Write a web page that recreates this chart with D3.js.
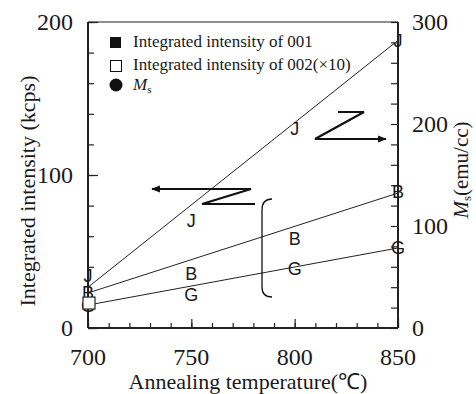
<!DOCTYPE html>
<html>
<head>
<meta charset="utf-8">
<script src="https://cdn.jsdelivr.net/npm/d3@7"></script>
<style>
  body { margin: 0; background: #fff; }
  svg text { fill: #1a1a1a; }
</style>
</head>
<body>
<svg id="chart" width="476" height="394"></svg>
<script>
// Data
const temps = [700, 750, 800, 850];
const msJ = [51, 105, 196, 282];          // M_s, right axis, drawn as "J"
const int001B = [23.5, 35.3, 58.8, 88.9]; // left axis, drawn as "B"
const int002G = [15, 22.2, 38.6, 52.3];   // left axis, drawn as "G"
const fitTemps = [700, 850];
const msFit = [40, 282];
const int001Fit = [22.9, 88.2];
const int002Fit = [15, 52.3];
const openSquare = { t: 700, v: 16.3 };

const xTicks = [700, 750, 800, 850];
const yLeftTicks = [0, 100, 200];
const yRightTicks = [0, 100, 200, 300];
const legendLabels = ['Integrated intensity of 001', 'Integrated intensity of 002(\u00d710)'];

const margin = { top: 22, right: 78, bottom: 66, left: 88 };
const W = 476, H = 394;
const width = W - margin.left - margin.right;
const height = H - margin.top - margin.bottom;

const svg = d3.select('#chart');
const g = svg.append('g').attr('transform', `translate(${margin.left},${margin.top})`);

const x = d3.scaleLinear().domain([700, 850]).range([0, width]);
const yL = d3.scaleLinear().domain([0, 200]).range([height, 0]);
const yR = d3.scaleLinear().domain([0, 300]).range([height, 0]);

const serif = "'Liberation Serif', 'Times New Roman', serif";
const sans = "'Liberation Sans', Arial, sans-serif";

// top border
g.append('line').attr('x1', 0).attr('x2', width).attr('y1', 0).attr('y2', 0)
    .attr('stroke', '#222').attr('stroke-width', 1.2);

// axes: minor ticks then major ticks, all pointing inward
function styleAxis(sel) {
    sel.select('.domain').remove();
    sel.selectAll('line').attr('stroke', '#222').attr('stroke-width', 1.2);
    sel.selectAll('text').remove();
}
g.append('g').attr('transform', `translate(0,${height})`)
    .call(d3.axisTop(x).tickValues(d3.range(700, 851, 10)).tickSize(5)).call(styleAxis);
g.append('g').attr('transform', `translate(0,${height})`)
    .call(d3.axisTop(x).tickValues(xTicks).tickSize(9)).call(styleAxis);
g.append('g')
    .call(d3.axisRight(yL).tickValues(d3.range(0, 201, 20)).tickSize(6)).call(styleAxis);
g.append('g')
    .call(d3.axisRight(yL).tickValues(yLeftTicks).tickSize(10)).call(styleAxis);
g.append('g').attr('transform', `translate(${width},0)`)
    .call(d3.axisLeft(yR).tickValues(d3.range(0, 301, 20)).tickSize(7)).call(styleAxis);

// axis lines
g.append('line').attr('x1', 0).attr('x2', width).attr('y1', height).attr('y2', height)
    .attr('stroke', '#222').attr('stroke-width', 2);
g.append('line').attr('x1', 0).attr('x2', 0).attr('y1', 0).attr('y2', height)
    .attr('stroke', '#222').attr('stroke-width', 2);
g.append('line').attr('x1', width).attr('x2', width).attr('y1', 0).attr('y2', height)
    .attr('stroke', '#222').attr('stroke-width', 2);

// tick labels
g.selectAll('.xl').data(xTicks).enter().append('text')
    .attr('x', d => x(d)).attr('y', height + 37)
    .attr('text-anchor', 'middle').style('font-family', serif).attr('font-size', 24)
    .text(d => d);
g.selectAll('.yl').data(yLeftTicks).enter().append('text')
    .attr('x', -15).attr('y', d => yL(d)).attr('dy', '0.35em')
    .attr('text-anchor', 'end').style('font-family', serif).attr('font-size', 24)
    .text(d => d);
g.selectAll('.yr').data(yRightTicks).enter().append('text')
    .attr('x', width + 14).attr('y', d => yR(d)).attr('dy', '0.35em')
    .attr('text-anchor', 'start').style('font-family', serif).attr('font-size', 24)
    .text(d => d);

// axis titles
const xt = svg.append('text').attr('x', 248).attr('y', 389)
    .attr('text-anchor', 'middle').style('font-family', serif).attr('font-size', 22);
xt.append('tspan').text('Annealing temperature(');
xt.append('tspan').style('font-family', sans).text('\u2103');
xt.append('tspan').text(')');

svg.append('text').attr('transform', 'translate(35,191) rotate(-90)')
    .attr('text-anchor', 'middle').style('font-family', serif).attr('font-size', 22)
    .text('Integrated intensity (kcps)');

const rt = svg.append('text').attr('transform', 'translate(468,170) rotate(-90)')
    .attr('text-anchor', 'middle').style('font-family', serif).attr('font-size', 21);
rt.append('tspan').attr('font-style', 'italic').text('M');
rt.append('tspan').attr('font-size', 13).attr('dy', 3).text('s');
rt.append('tspan').attr('dy', -3).text('(emu/cc)');

// fitted lines
const fits = [
    { vals: msFit, y: yR },
    { vals: int001Fit, y: yL },
    { vals: int002Fit, y: yL },
];
fits.forEach(f => {
    g.append('path')
        .datum(fitTemps.map((t, i) => [t, f.vals[i]]))
        .attr('fill', 'none').attr('stroke', '#222').attr('stroke-width', 1)
        .attr('d', d3.line().x(d => x(d[0])).y(d => f.y(d[1])));
});

// markers drawn as letters
const series = [
    { vals: msJ, y: yR, ch: 'J' },
    { vals: int001B, y: yL, ch: 'B' },
    { vals: int002G, y: yL, ch: 'G' },
];
series.forEach(s => {
    g.selectAll(null).data(temps.map((t, i) => [t, s.vals[i]])).enter().append('text')
        .attr('x', d => x(d[0])).attr('y', d => s.y(d[1])).attr('dy', '0.36em')
        .attr('text-anchor', 'middle').style('font-family', sans).attr('font-size', 18)
        .text(s.ch);
});

// open square at 700
g.append('rect')
    .attr('x', x(openSquare.t) - 5).attr('y', yL(openSquare.v) - 6)
    .attr('width', 12).attr('height', 12)
    .attr('fill', '#fff').attr('stroke', '#222').attr('stroke-width', 1.2);

// legend
const lg = svg.append('g').style('font-family', serif).attr('font-size', 17);
lg.append('rect').attr('x', 110).attr('y', 37).attr('width', 11).attr('height', 11).attr('fill', '#111');
lg.append('text').attr('x', 133).attr('y', 47).text(legendLabels[0]);
lg.append('rect').attr('x', 110.5).attr('y', 60.5).attr('width', 11).attr('height', 11)
    .attr('fill', '#fff').attr('stroke', '#111').attr('stroke-width', 1);
lg.append('text').attr('x', 133).attr('y', 70).text(legendLabels[1]);
lg.append('circle').attr('cx', 116).attr('cy', 85).attr('r', 6.5).attr('fill', '#111');
const ml = lg.append('text').attr('x', 133).attr('y', 90);
ml.append('tspan').attr('font-style', 'italic').text('M');
ml.append('tspan').attr('font-size', 11).attr('dy', 3).text('s');

// arrows and annotations
svg.append('defs').append('marker').attr('id', 'ah')
    .attr('viewBox', '0 0 10 10').attr('refX', 9).attr('refY', 5)
    .attr('markerWidth', 4).attr('markerHeight', 4).attr('orient', 'auto')
    .append('path').attr('d', 'M0,1L10,5L0,9Z').attr('fill', '#111');

svg.append('path')
    .attr('d', 'M255,204 L202,204 L251,189 L152,189')
    .attr('fill', 'none').attr('stroke', '#111').attr('stroke-width', 2.2)
    .attr('marker-end', 'url(#ah)');
svg.append('path')
    .attr('d', 'M338,112 L364,112 L315,139 L386,139')
    .attr('fill', 'none').attr('stroke', '#111').attr('stroke-width', 2.2)
    .attr('marker-end', 'url(#ah)');
svg.append('path')
    .attr('d', 'M272,199 Q262,199 262,210 L262,287 Q262,297 272,297')
    .attr('fill', 'none').attr('stroke', '#111').attr('stroke-width', 1.3);
</script>
</body>
</html>
